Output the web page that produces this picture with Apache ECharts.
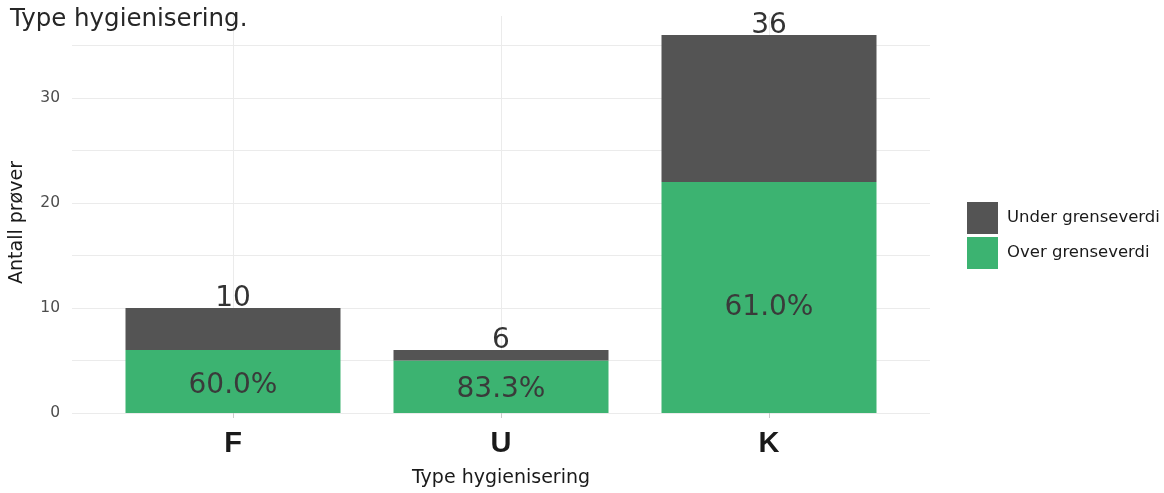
<!DOCTYPE html>
<html>
<head>
<meta charset="utf-8">
<script src="https://cdn.jsdelivr.net/npm/echarts@6/dist/echarts.min.js"></script>
<style>
  html, body { margin: 0; padding: 0; background: #fff; }
  #chart { width: 1164px; height: 493px; }
</style>
</head>
<body>
<div id="chart"></div>
<script>
// Sample counts per hygienisation type
const categories = ['F', 'U', 'K'];
const overValues = [6, 5, 22];   // Over grenseverdi
const underValues = [4, 1, 14];  // Under grenseverdi
const pctLabels = ['60.0%', '83.3%', '61.0%'];

const totals = overValues.map((v, i) => v + underValues[i]);

const GREEN = '#3CB371';
const DARK = '#545454';
const GRIDC = '#EBEBEB';
const FONT = 'DejaVu Sans';
const yMax = 37.8;

// nudges for the percentage labels inside the green segments
const pctOffsets = [[0, 4.5], [0, 3], [0, 10.5]];

const chart = echarts.init(document.getElementById('chart'), null, { renderer: 'canvas' });

chart.setOption({
  animation: false,
  backgroundColor: '#ffffff',
  title: {
    text: 'Type hygienisering.',
    left: 5, top: 2,
    textStyle: { fontFamily: FONT, fontSize: 24.5, fontWeight: 'normal', color: '#262626' }
  },
  legend: {
    orient: 'vertical',
    left: 967, top: 202,
    itemWidth: 31, itemHeight: 32, itemGap: 3,
    icon: 'rect',
    padding: 0,
    data: ['Under grenseverdi', 'Over grenseverdi'],
    textStyle: { fontFamily: FONT, fontSize: 16.5, color: '#1a1a1a', padding: [0, 0, 0, 4] }
  },
  grid: [
    { left: 72, right: 234, top: 16, bottom: 80 },
    { left: 233, right: 395, top: 16, bottom: 80 }
  ],
  xAxis: [
    { gridIndex: 0, type: 'value', min: 0, max: 1, show: false },
    {
      gridIndex: 1, type: 'category', data: categories, boundaryGap: false,
      axisLine: { show: false },
      axisTick: { show: true, length: 5, lineStyle: { color: '#cccccc' } },
      splitLine: { show: true, lineStyle: { color: GRIDC, width: 1 } },
      axisLabel: { fontFamily: 'Liberation Sans', fontSize: 29, fontWeight: 'bold', color: '#1a1a1a', margin: 16 },
      name: 'Type hygienisering', nameLocation: 'middle', nameGap: 56,
      nameTextStyle: { fontFamily: FONT, fontSize: 19, color: '#1a1a1a' }
    }
  ],
  yAxis: [
    {
      gridIndex: 0, type: 'value', min: 0, max: yMax, interval: 5,
      axisLine: { show: false }, axisTick: { show: false },
      splitLine: { show: true, showMaxLine: false, lineStyle: { color: GRIDC, width: 1 } },
      axisLabel: {
        fontFamily: FONT, fontSize: 15.5, color: '#4d4d4d', margin: 12,
        showMaxLabel: false,
        formatter: v => (v % 10 === 0 ? String(v) : '')
      },
      name: 'Antall prøver', nameLocation: 'middle', nameGap: 45, nameRotate: 90,
      nameTextStyle: { fontFamily: FONT, fontSize: 19, color: '#1a1a1a', padding: [0, 16, 0, 0] }
    },
    { gridIndex: 1, type: 'value', min: 0, max: yMax, show: false }
  ],
  series: [
    {
      name: 'Over grenseverdi', type: 'bar', stack: 'n',
      xAxisIndex: 1, yAxisIndex: 1,
      barWidth: 215, clip: false,
      itemStyle: { color: GREEN },
      data: overValues.map((v, i) => ({
        value: v,
        label: { offset: pctOffsets[i] }
      })),
      label: {
        show: true, position: 'inside',
        formatter: p => pctLabels[p.dataIndex],
        fontFamily: FONT, fontSize: 28, color: '#3a3a3a'
      }
    },
    {
      name: 'Under grenseverdi', type: 'bar', stack: 'n',
      xAxisIndex: 1, yAxisIndex: 1,
      barWidth: 215, clip: false,
      itemStyle: { color: DARK },
      data: underValues,
      label: {
        show: true, position: 'top', distance: -5,
        formatter: p => String(totals[p.dataIndex]),
        fontFamily: FONT, fontSize: 28, color: '#333333'
      }
    }
  ]
});
</script>
</body>
</html>
